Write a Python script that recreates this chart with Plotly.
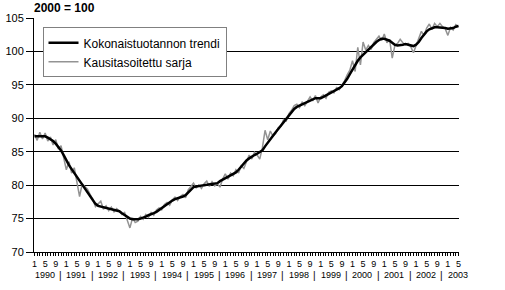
import plotly.graph_objects as go

# ---- data (monthly, Jan 1990 .. May 2003) ----
years = [1990, 1991, 1992, 1993, 1994, 1995, 1996, 1997, 1998, 1999, 2000, 2001, 2002, 2003]
label_months = ["1", "5", "9"]

trend = [
    # 1990
    87.3, 87.3, 87.35, 87.4, 87.3, 87.1, 86.9, 86.6, 86.2, 85.7, 85.2, 84.5,
    # 1991
    83.7, 83.0, 82.4, 81.8, 81.2, 80.6, 80.1, 79.6, 79.0, 78.4, 77.8, 77.2,
    # 1992
    76.9, 76.8, 76.7, 76.6, 76.5, 76.4, 76.3, 76.2, 76.1, 75.8, 75.5, 75.2,
    # 1993
    75.0, 74.9, 74.85, 74.9, 75.0, 75.1, 75.3, 75.5, 75.6, 75.8, 76.0, 76.3,
    # 1994
    76.6, 76.9, 77.2, 77.5, 77.7, 77.9, 78.0, 78.1, 78.3, 78.5, 78.9, 79.3,
    # 1995
    79.7, 79.8, 79.9, 79.95, 80.0, 80.05, 80.1, 80.1, 80.15, 80.3, 80.6, 80.8,
    # 1996
    81.0, 81.2, 81.5, 81.7, 81.9, 82.3, 82.8, 83.3, 83.7, 84.0, 84.3, 84.5,
    # 1997
    84.7, 84.9, 85.2, 85.8, 86.4, 86.9, 87.4, 87.9, 88.4, 89.0, 89.5, 90.0,
    # 1998
    90.5, 91.0, 91.4, 91.7, 91.9, 92.1, 92.3, 92.5, 92.7, 92.9, 93.0, 93.0,
    # 1999
    93.0, 93.2, 93.4, 93.7, 93.9, 94.1, 94.3, 94.5, 94.8, 95.3, 95.9, 96.6,
    # 2000
    97.3, 98.0, 98.6, 99.1, 99.5, 99.9, 100.2, 100.6, 101.0, 101.4, 101.7, 101.9,
    # 2001
    101.9, 101.8, 101.6, 101.3, 101.0, 100.9, 100.9, 101.0, 101.1, 101.0, 100.9, 100.8,
    # 2002
    101.0, 101.4, 102.0, 102.6, 103.0, 103.3, 103.5, 103.6, 103.6, 103.6, 103.6, 103.5,
    # 2003
    103.4, 103.4, 103.5, 103.7, 103.8,
]

seasonal_adj = [
    # 1990
    87.6, 86.7, 87.9, 86.9, 87.8, 86.6, 87.2, 86.0, 86.8, 85.4, 85.9, 84.0,
    # 1991
    82.3, 83.5, 81.8, 82.6, 80.6, 78.3, 80.2, 79.8, 79.4, 78.6, 77.9, 76.8,
    # 1992
    77.2, 77.6, 76.4, 76.9, 76.2, 76.7, 76.0, 76.5, 76.1, 75.6, 75.9, 74.9,
    # 1993
    73.6, 75.1, 74.4, 74.6, 75.3, 74.9, 75.6, 75.2, 75.9, 75.5, 76.3, 76.6,
    # 1994
    76.3, 77.1, 77.4, 77.0, 77.8, 78.2, 77.7, 78.3, 78.6, 78.1, 79.3, 79.8,
    # 1995
    80.3, 79.6, 80.0, 79.5, 80.2, 80.6, 79.8, 80.5, 79.9, 80.2, 79.7, 80.9,
    # 1996
    81.7, 80.9, 81.8, 81.4, 82.3, 81.8, 82.9, 82.5, 83.6, 84.5, 83.9, 84.9,
    # 1997
    84.5, 83.9, 85.6, 88.2, 86.8, 88.1, 87.3, 87.7, 88.6, 88.8, 89.8, 89.6,
    # 1998
    90.7, 91.2, 91.9, 92.1, 91.6, 92.4, 91.9, 92.6, 93.2, 92.6, 93.4, 92.3,
    # 1999
    93.2, 93.5, 93.0, 93.9, 94.1, 93.8, 94.6, 94.3, 94.9, 95.6, 96.5, 97.2,
    # 2000
    98.6, 97.0, 100.6, 98.0, 101.4, 100.2, 100.9, 100.3, 101.3, 101.8, 102.3, 101.6,
    # 2001
    102.6, 101.3, 101.8, 99.0, 100.9, 101.2, 101.8, 101.3, 101.0, 101.2, 100.7, 99.8,
    # 2002
    100.8, 101.9, 103.0, 102.4, 103.5, 104.1, 103.3, 104.2, 103.7, 104.2, 103.7, 103.4,
    # 2003
    102.4, 103.6, 103.2, 104.0, 103.7,
]

n = len(trend)
x = list(range(n))

# month tick labels: "1", "5", "9" under Jan, May, Sep
tickvals = x
ticktext = []
for i in x:
    mm = i % 12
    ticktext.append({0: label_months[0], 4: label_months[1], 8: label_months[2]}.get(mm, ""))

FONT = "Liberation Sans, Arial, sans-serif"

fig = go.Figure()
fig.add_trace(go.Scatter(
    x=x, y=seasonal_adj, mode="lines", name="Kausitasoitettu sarja",
    line=dict(color="#939393", width=1.5),
))
fig.add_trace(go.Scatter(
    x=x, y=trend, mode="lines", name="Kokonaistuotannon trendi",
    line=dict(color="black", width=2.5),
))

annotations = []
for k, yr in enumerate(years):
    m0 = k * 12
    annotations.append(dict(
        x=m0, y=0, xref="x", yref="paper", yshift=-23, xshift=-2,
        text=str(yr), showarrow=False, xanchor="left", yanchor="middle",
        font=dict(family=FONT, size=9, color="black"),
    ))
    if k > 0:
        annotations.append(dict(
            x=m0, y=0, xref="x", yref="paper", yshift=-23, xshift=-6,
            text="|", showarrow=False, xanchor="center", yanchor="middle",
            font=dict(family=FONT, size=10, color="black"),
        ))
annotations.append(dict(
    x=0, y=1, xref="paper", yref="paper", yshift=10, xshift=-2,
    text="<b>2000 = 100</b>", showarrow=False, xanchor="left", yanchor="middle",
    font=dict(family=FONT, size=12, color="black"),
))

fig.update_layout(
    width=505, height=290,
    margin=dict(l=34, r=46, t=18, b=38, autoexpand=False),
    paper_bgcolor="white", plot_bgcolor="white",
    showlegend=True,
    legend=dict(
        x=0.02, y=0.96, xanchor="left", yanchor="top",
        bgcolor="white", bordercolor="#808080", borderwidth=1,
        font=dict(family=FONT, size=12, color="black"),
        traceorder="reversed", tracegroupgap=0,
        itemwidth=30,
    ),
    annotations=annotations,
    xaxis=dict(
        range=[-0.2, n - 1 + 0.2],
        tickmode="array", tickvals=tickvals, ticktext=ticktext,
        ticks="outside", ticklen=3, tickwidth=1, tickcolor="black",
        tickfont=dict(family=FONT, size=9, color="black"),
        showgrid=False, zeroline=False, automargin=False,
        showline=True, linecolor="black", linewidth=1,
        fixedrange=True,
    ),
    yaxis=dict(
        range=[70, 105], tickmode="linear", tick0=70, dtick=5,
        ticks="outside", ticklen=7, tickwidth=1, tickcolor="black",
        tickfont=dict(family=FONT, size=11, color="black"),
        showgrid=True, gridcolor="black", gridwidth=1, automargin=False,
        zeroline=False, showline=True, linecolor="black", linewidth=1,
        fixedrange=True,
    ),
)

fig.write_html("out.html")
